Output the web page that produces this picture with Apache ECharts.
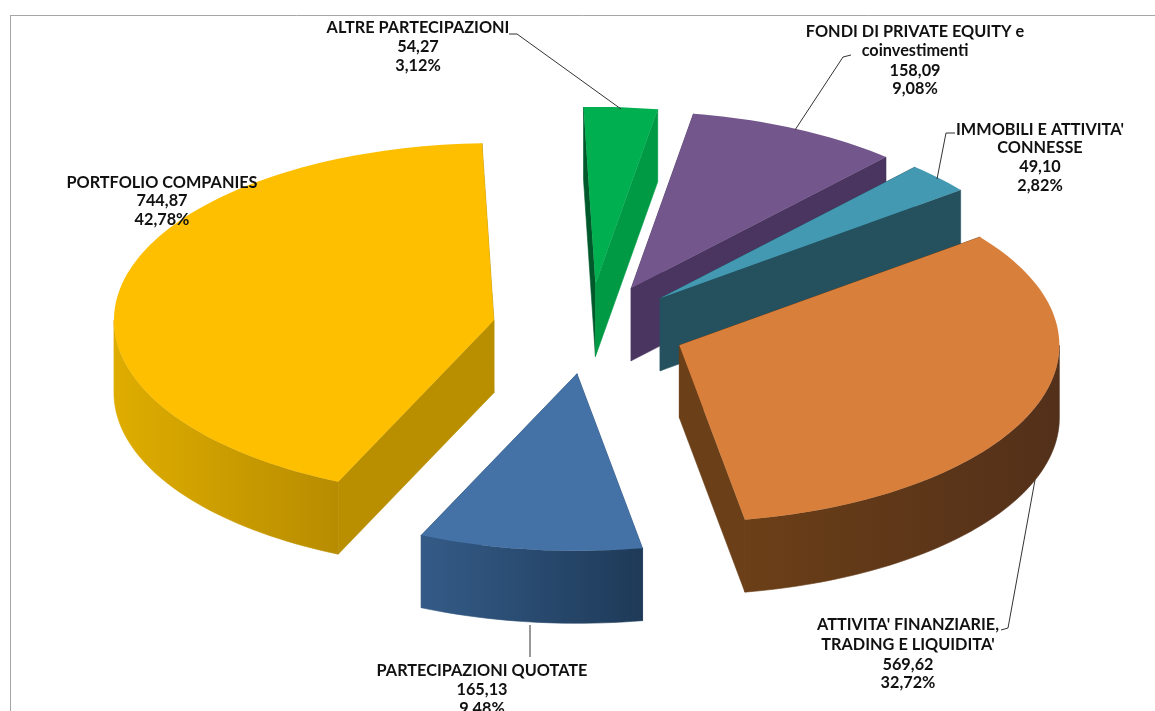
<!DOCTYPE html>
<html>
<head>
<meta charset="utf-8">
<style>
  html, body { margin: 0; padding: 0; background: #fff; overflow: hidden; }
  #chart { width: 1155px; height: 711px; }
</style>
<script src="https://cdn.jsdelivr.net/npm/echarts@6/dist/echarts.min.js"></script>
</head>
<body>
<div id="chart"></div>
<script>
// painter's order: back slices first
const categories = [
  "ALTRE PARTECIPAZIONI",
  "FONDI DI PRIVATE EQUITY e\ncoinvestimenti",
  "IMMOBILI E ATTIVITA'\nCONNESSE",
  "ATTIVITA' FINANZIARIE,\nTRADING E LIQUIDITA'",
  "PARTECIPAZIONI QUOTATE",
  "PORTFOLIO COMPANIES"
];
const values = [54.27, 158.09, 49.10, 569.62, 165.13, 744.87];
const percents = [3.12, 9.08, 2.82, 32.72, 9.48, 42.78];

// look of the slices
const topColors = ["#00b050", "#72568c", "#4399b2", "#d97f3c", "#4472a6", "#fdbf00"];
const startWallColors = ["#00592b", "#4a3560", "#25515f", "#6b3f17", "#2f5178", "#b98f00"];
const endWallColors = ["#009a45", "#4a3560", "#25515f", "#6b3f17", "#2f5178", "#b98f00"];
const rimColors = [
  ["#009a45", "#009a45"], ["#4a3560", "#4a3560"], ["#25515f", "#25515f"],
  ["#6b3f17", "#53301a"], ["#345b87", "#1e3a58"], ["#dfad00", "#b78c00"]
];

// label layout: centre x, y of each line, leader line
const labelX = [418, 915, 1040, 908, 482, 162];
const labelY = [
  [28, 47, 66], [32, 51, 71, 89], [130, 148, 167, 186],
  [625, 645, 665, 683], [671, 690, 709], [183, 201, 220]
];
const leaders = [
  [[509, 34], [517, 34], [621, 109]],
  [[851, 55], [843, 57], [795, 130]],
  [[955, 133], [946, 133], [937, 179]],
  [[1001, 630], [1008, 628], [1035, 480]],
  [[530, 625], [530, 657]],
  null
];

const CX = 589, CY = 329, RX = 380, RY = 177, DEPTH = 72.5, EXPLODE = 0.255;
const START_DEG = -1.8;

const fmt = v => v.toFixed(2).replace(".", ",");

// slice angles come from the percents, clockwise from 12 o'clock
const slices = [];
let acc = START_DEG;
percents.forEach(p => {
  const from = acc;
  acc += p * 3.6;
  slices.push({ from: from, to: acc });
});

function rad(d) { return d * Math.PI / 180; }

function rimPoint(apex, deg, dy) {
  return [apex[0] + RX * Math.sin(rad(deg)), apex[1] - RY * Math.cos(rad(deg)) + dy];
}

function arc(apex, from, to, dy) {
  const pts = [];
  const n = Math.max(2, Math.ceil(Math.abs(to - from) / 1.5));
  for (let i = 0; i <= n; i++) {
    pts.push(rimPoint(apex, from + (to - from) * i / n, dy));
  }
  return pts;
}

function renderSlice(params) {
  const i = params.dataIndex;
  const s = slices[i];
  const mid = (s.from + s.to) / 2;
  const apex = [
    CX + EXPLODE * RX * Math.sin(rad(mid)),
    CY - EXPLODE * RY * Math.cos(rad(mid))
  ];
  const low = [apex[0], apex[1] + DEPTH];
  const children = [];

  // cut faces
  const a = rimPoint(apex, s.from, 0), a2 = rimPoint(apex, s.from, DEPTH);
  const b = rimPoint(apex, s.to, 0), b2 = rimPoint(apex, s.to, DEPTH);
  children.push({
    type: "polygon", shape: { points: [apex, a, a2, low] },
    style: { fill: startWallColors[i], stroke: startWallColors[i], lineWidth: 0.6 }
  });
  children.push({
    type: "polygon", shape: { points: [apex, b, b2, low] },
    style: { fill: endWallColors[i], stroke: endWallColors[i], lineWidth: 0.6 }
  });

  // outer wall, only the part that faces the viewer
  const wFrom = Math.max(s.from, 90), wTo = Math.min(s.to, 270);
  if (wTo > wFrom) {
    const up = arc(apex, wFrom, wTo, 0);
    const down = arc(apex, wFrom, wTo, DEPTH).reverse();
    const xs = up.map(p => p[0]);
    const minX = Math.min.apply(null, xs), maxX = Math.max.apply(null, xs);
    const grad = {
      type: "linear", global: true, x: minX, y: 0, x2: maxX, y2: 0,
      colorStops: [
        { offset: 0, color: rimColors[i][0] },
        { offset: 1, color: rimColors[i][1] }
      ]
    };
    children.push({
      type: "polygon",
      shape: { points: up.concat(down) },
      style: { fill: grad, stroke: grad, lineWidth: 0.6 }
    });
  }

  // top face
  children.push({
    type: "polygon",
    shape: { points: [apex].concat(arc(apex, s.from, s.to, 0)) },
    style: { fill: topColors[i] }
  });
  return { type: "group", children: children };
}

function renderLabel(params) {
  const i = params.dataIndex;
  const lines = categories[i].split("\n").concat([fmt(values[i]), fmt(percents[i]) + "%"]);
  const children = lines.map((t, k) => ({
    type: "text",
    style: {
      text: t, x: labelX[i], y: labelY[i][k],
      align: "center", verticalAlign: "middle",
      font: 'bold 16.3px Lato, "Open Sans", sans-serif', fill: "#111"
    }
  }));
  if (leaders[i]) {
    children.push({
      type: "polyline",
      shape: { points: leaders[i] },
      style: { fill: "none", stroke: "#333", lineWidth: 1 }
    });
  }
  return { type: "group", children: children };
}

const chart = echarts.init(document.getElementById("chart"));
chart.setOption({
  animation: false,
  backgroundColor: "#fff",
  graphic: [
    { type: "line", silent: true, z: 0, shape: { x1: 10, y1: 15.5, x2: 1155, y2: 15.5 }, style: { stroke: "#a6a6a6", lineWidth: 1 } },
    { type: "line", silent: true, z: 0, shape: { x1: 10.5, y1: 15, x2: 10.5, y2: 711 }, style: { stroke: "#a6a6a6", lineWidth: 1 } }
  ],
  series: [
    { type: "custom", coordinateSystem: "none", silent: true, z: 2, renderItem: renderSlice, data: values },
    { type: "custom", coordinateSystem: "none", silent: true, z: 3, renderItem: renderLabel, data: values }
  ]
});
</script>
</body>
</html>
